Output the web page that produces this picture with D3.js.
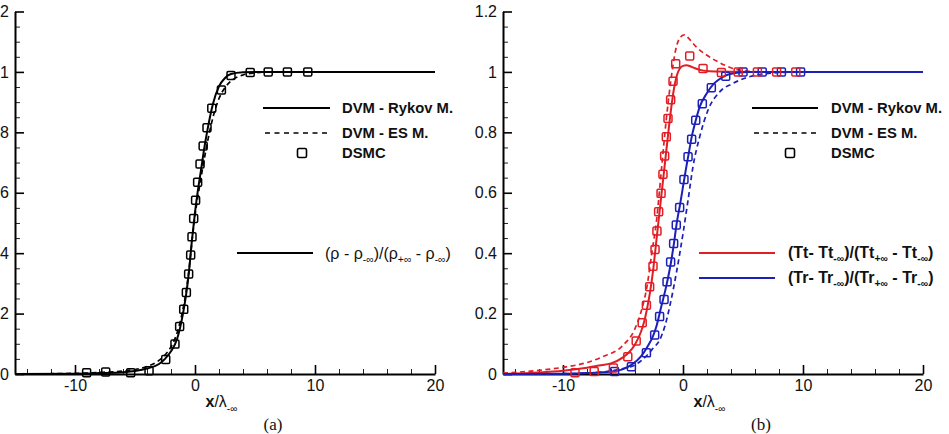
<!DOCTYPE html>
<html><head><meta charset="utf-8">
<script src="https://cdn.jsdelivr.net/npm/d3@7"></script>
<style>body{margin:0;background:#fff} svg{display:block}</style>
</head><body><svg id="c" width="949" height="434"></svg>
<script>
// ---------- data ----------
const xMajorTicks = [-10, 0, 10, 20];
const xTickLabels = ["-10", "0", "10", "20"];
const yMajorTicks = [0, 0.2, 0.4, 0.6, 0.8, 1.0, 1.2];
const leftYTickLabels = ["0", "2", "4", "6", "8", "1", "2"];
const rightYTickLabels = ["0", "0.2", "0.4", "0.6", "0.8", "1", "1.2"];

// panel (a): density
const rhoRykov = [[-15,0],[-10,0.001],[-8,0.003],[-6,0.006],[-5,0.01],[-4,0.018],[-3,0.033],[-2.5,0.05],[-2,0.075],[-1.5,0.115],[-1,0.2],[-0.75,0.26],[-0.5,0.34],[-0.25,0.445],[0,0.535],[0.25,0.61],[0.5,0.675],[0.75,0.742],[1,0.8],[1.5,0.895],[2,0.952],[2.5,0.98],[3,0.993],[4,0.999],[5,1],[20,1]];
const rhoES = [[-15,0],[-10,0.002],[-8,0.005],[-6,0.01],[-5,0.015],[-4,0.025],[-3,0.045],[-2.5,0.063],[-2,0.09],[-1.5,0.135],[-1,0.215],[-0.75,0.27],[-0.5,0.345],[-0.25,0.44],[0,0.525],[0.25,0.59],[0.5,0.65],[0.75,0.707],[1,0.76],[1.5,0.85],[2,0.912],[2.5,0.948],[3,0.97],[4,0.99],[5,0.997],[6,1],[20,1]];
const rhoDSMC = [[-9.03,0.004],[-7.44,0.007],[-5.36,0.004],[-3.83,0.011],[-2.44,0.048],[-1.67,0.099],[-1.28,0.157],[-0.94,0.214],[-0.72,0.27],[-0.53,0.331],[-0.36,0.394],[-0.25,0.454],[-0.11,0.515],[0.05,0.575],[0.22,0.635],[0.42,0.695],[0.68,0.755],[1.0,0.815],[1.4,0.88],[2.2,0.94],[3.0,0.988],[4.6,0.998],[6.1,1.0],[7.7,1.0],[9.4,1.0]];

// panel (b): temperatures
const ttRykov = [[-15,0],[-12,0.005],[-10,0.011],[-8,0.021],[-7,0.028],[-6,0.035],[-5,0.055],[-4.5,0.072],[-4,0.098],[-3.5,0.14],[-3.2,0.179],[-3,0.215],[-2.75,0.27],[-2.5,0.34],[-2.25,0.43],[-2,0.52],[-1.75,0.61],[-1.5,0.7],[-1.25,0.79],[-1,0.875],[-0.75,0.945],[-0.5,0.99],[-0.25,1.012],[0,1.02],[0.3,1.022],[0.6,1.019],[1,1.012],[1.5,1.006],[2,1.003],[3,1.001],[5,1],[20,1]];
const ttES = [[-15,0.003],[-12,0.012],[-10,0.022],[-8,0.038],[-6.7,0.057],[-5,0.095],[-4,0.15],[-3.5,0.205],[-3,0.29],[-2.6,0.4],[-2.2,0.51],[-1.8,0.675],[-1.4,0.84],[-1,0.975],[-0.6,1.075],[-0.2,1.116],[0.15,1.123],[0.5,1.11],[1.1,1.083],[2,1.055],[2.8,1.036],[4.2,1.011],[5.5,1.002],[7,1],[20,1]];
const ttDSMC = [[-9.0,0.004],[-7.4,0.008],[-5.8,0.02],[-4.6,0.057],[-3.9,0.109],[-3.4,0.17],[-3.05,0.228],[-2.78,0.289],[-2.5,0.357],[-2.33,0.412],[-2.17,0.473],[-2.03,0.537],[-1.83,0.598],[-1.67,0.661],[-1.53,0.722],[-1.39,0.785],[-1.25,0.846],[-1.03,0.908],[-0.83,0.969],[-0.61,1.027],[0.56,1.053],[1.67,1.011],[3.2,0.998],[4.6,1.0],[6.2,1.0],[7.8,1.0],[9.4,1.0]];
const trRykov = [[-15,0],[-10,0.001],[-8,0.003],[-6,0.008],[-5,0.016],[-4.3,0.03],[-3.5,0.058],[-3,0.088],[-2.5,0.125],[-2.2,0.16],[-1.8,0.225],[-1.4,0.29],[-1,0.37],[-0.8,0.42],[-0.5,0.505],[-0.25,0.56],[0,0.62],[0.25,0.68],[0.5,0.735],[0.7,0.78],[1,0.83],[1.4,0.885],[2,0.93],[2.5,0.958],[3,0.975],[3.6,0.989],[4.5,0.997],[5.5,1],[20,1]];
const trES = [[-15,0],[-10,0.001],[-8,0.003],[-6,0.01],[-5,0.018],[-4,0.03],[-3,0.062],[-2.5,0.085],[-1.95,0.112],[-1.5,0.16],[-1.11,0.223],[-0.56,0.333],[0,0.465],[0.42,0.575],[0.83,0.686],[1.39,0.785],[2.08,0.873],[3.06,0.934],[4.17,0.962],[5.2,0.98],[6.5,0.992],[8,0.998],[10,1],[20,1]];
const trDSMC = [[-5.7,0.008],[-4.3,0.024],[-3.05,0.07],[-2.36,0.129],[-1.95,0.19],[-1.58,0.247],[-1.33,0.305],[-1.03,0.371],[-0.78,0.432],[-0.56,0.493],[-0.28,0.551],[0.08,0.644],[0.42,0.719],[0.72,0.777],[1.06,0.84],[1.61,0.895],[2.36,0.948],[3.56,0.986],[5.0,1.0],[6.6,1.0],[8.2,1.0],[9.8,1.0]];

// ---------- drawing ----------
const RED = "#e11d25", BLUE = "#1c20b8";
const FONT = "Arial, 'Liberation Sans', Helvetica, sans-serif";
const svg = d3.select("#c");
svg.attr("font-family", FONT);

const xDomain = [-15, 20], yDomain = [0, 1.2];
const xMinorTicks = d3.range(-14, 21, 2).filter(v => v % 10 !== 0);
const yMinorTicks = d3.range(0.05, 1.2, 0.05).map(v => +v.toFixed(2)).filter(v => Math.abs(v * 5 - Math.round(v * 5)) > 1e-6);

function panel(x0, x1, yTickLabels) {
  const x = d3.scaleLinear().domain(xDomain).range([x0, x1]);
  const y = d3.scaleLinear().domain(yDomain).range([374, 11.5]);
  const g = svg.append("g");
  g.append("g").attr("transform", `translate(${x0},0)`)
    .call(d3.axisLeft(y).tickValues(yMinorTicks).tickSize(-5).tickFormat(""))
    .call(s => { s.select(".domain").remove(); s.selectAll("line").attr("stroke-width", 1).attr("stroke", "#222"); });
  g.append("g").attr("transform", `translate(0,374)`)
    .call(d3.axisBottom(x).tickValues(xMinorTicks).tickSize(-5).tickFormat(""))
    .call(s => { s.select(".domain").remove(); s.selectAll("line").attr("stroke-width", 1).attr("stroke", "#222"); });
  g.append("g").attr("transform", `translate(${x0},0)`)
    .call(d3.axisLeft(y).tickValues(yMajorTicks).tickSizeInner(-9).tickSizeOuter(0).tickPadding(6)
      .tickFormat((d, i) => yTickLabels[i]))
    .call(s => {
      s.attr("font-family", FONT);
      s.select(".domain").attr("stroke-width", 2).attr("stroke", "#000");
      s.selectAll(".tick line").attr("stroke-width", 1.6).attr("stroke", "#000");
      s.selectAll("text").attr("font-size", 16).attr("font-family", FONT).attr("fill", "#111");
    });
  g.append("g").attr("transform", `translate(0,374)`)
    .call(d3.axisBottom(x).tickValues(xMajorTicks).tickSizeInner(-9).tickSizeOuter(0).tickPadding(5.5)
      .tickFormat((d, i) => xTickLabels[i]))
    .call(s => {
      s.attr("font-family", FONT);
      s.select(".domain").attr("stroke-width", 2).attr("stroke", "#000");
      s.selectAll(".tick line").attr("stroke-width", 1.6).attr("stroke", "#000");
      s.selectAll("text").attr("font-size", 16).attr("font-family", FONT).attr("fill", "#111");
    });
  const cx = (x0 + x1) / 2;
  const t = g.append("text").attr("x", cx - 19.5).attr("y", 407).attr("font-size", 16).attr("fill", "#111");
  t.append("tspan").attr("font-weight", "bold").text("x");
  t.append("tspan").text("/λ");
  t.append("tspan").attr("font-size", 10).attr("dy", 5).text("-∞");
  return { x, y, g };
}

function curve(p, data, color, dashed) {
  const line = d3.line().x(d => p.x(d[0])).y(d => p.y(d[1])).curve(d3.curveMonotoneX);
  p.g.append("path").datum(data).attr("d", line).attr("fill", "none")
    .attr("stroke", color).attr("stroke-width", dashed ? 1.7 : 2)
    .attr("stroke-dasharray", dashed ? "5,3.5" : null);
}
function squares(p, data, color) {
  p.g.append("g").selectAll("rect").data(data).join("rect")
    .attr("x", d => p.x(d[0]) - 4).attr("y", d => p.y(d[1]) - 4)
    .attr("width", 8).attr("height", 8).attr("rx", 1.2)
    .attr("fill", "none").attr("stroke", color).attr("stroke-width", 1.5);
}

const A = panel(15, 435, leftYTickLabels);
const B = panel(503, 923, rightYTickLabels);

curve(A, rhoES, "#000", true);
curve(A, rhoRykov, "#000", false);
squares(A, rhoDSMC, "#000");

curve(B, ttES, RED, true);
curve(B, trES, BLUE, true);
curve(B, ttRykov, RED, false);
curve(B, trRykov, BLUE, false);
squares(B, trDSMC, BLUE);
squares(B, ttDSMC, RED);

function methodLegend(lx0, lx1, sqx, tx) {
  svg.append("line").attr("x1", lx0).attr("x2", lx1).attr("y1", 108).attr("y2", 108).attr("stroke", "#000").attr("stroke-width", 2);
  svg.append("line").attr("x1", lx0 + 2).attr("x2", lx1).attr("y1", 133).attr("y2", 133).attr("stroke", "#000").attr("stroke-width", 1.7).attr("stroke-dasharray", "5,4.5");
  svg.append("rect").attr("x", sqx - 4.5).attr("y", 148.5).attr("width", 9).attr("height", 9).attr("rx", 1.5)
    .attr("fill", "none").attr("stroke", "#000").attr("stroke-width", 1.6);
  const names = ["DVM - Rykov M.", "DVM - ES M.", "DSMC"];
  const ys = [113, 137.5, 158];
  names.forEach((n, i) => svg.append("text").attr("x", tx).attr("y", ys[i]).attr("font-size", 14.8)
    .attr("font-weight", "bold").attr("fill", "#111").text(n));
}
methodLegend(263, 330, 302, 342);
methodLegend(752, 818, 790, 831);

function subText(x, y, parts, size, weight) {
  const t = svg.append("text").attr("x", x).attr("y", y).attr("font-size", size).attr("font-weight", weight).attr("fill", "#111");
  let shifted = false;
  parts.forEach(([s, sub]) => {
    const sp = t.append("tspan").text(s);
    if (sub && !shifted) { sp.attr("font-size", size * 0.65).attr("dy", 4); shifted = true; }
    else if (!sub && shifted) { sp.attr("dy", -4); shifted = false; }
    else if (sub) sp.attr("font-size", size * 0.65);
  });
}
svg.append("line").attr("x1", 237).attr("x2", 313).attr("y1", 253).attr("y2", 253).attr("stroke", "#000").attr("stroke-width", 2);
subText(325, 259, [["(ρ - ρ"], ["-∞", 1], [")/(ρ"], ["+∞", 1], [" - ρ"], ["-∞", 1], [")"]], 16, "normal");
svg.append("line").attr("x1", 699).attr("x2", 775).attr("y1", 253).attr("y2", 253).attr("stroke", RED).attr("stroke-width", 2);
svg.append("line").attr("x1", 699).attr("x2", 775).attr("y1", 278).attr("y2", 278).attr("stroke", BLUE).attr("stroke-width", 2);
subText(788, 258, [["(Tt- Tt"], ["-∞", 1], [")/(Tt"], ["+∞", 1], [" - Tt"], ["-∞", 1], [")"]], 16, "bold");
subText(788, 283, [["(Tr- Tr"], ["-∞", 1], [")/(Tr"], ["+∞", 1], [" - Tr"], ["-∞", 1], [")"]], 16, "bold");

svg.append("text").attr("x", 273).attr("y", 430).attr("text-anchor", "middle").attr("font-family", "'Liberation Serif', 'DejaVu Serif', serif").attr("font-size", 17).attr("fill", "#111").text("(a)");
svg.append("text").attr("x", 761).attr("y", 430).attr("text-anchor", "middle").attr("font-family", "'Liberation Serif', 'DejaVu Serif', serif").attr("font-size", 17).attr("fill", "#111").text("(b)");
</script></body></html>
